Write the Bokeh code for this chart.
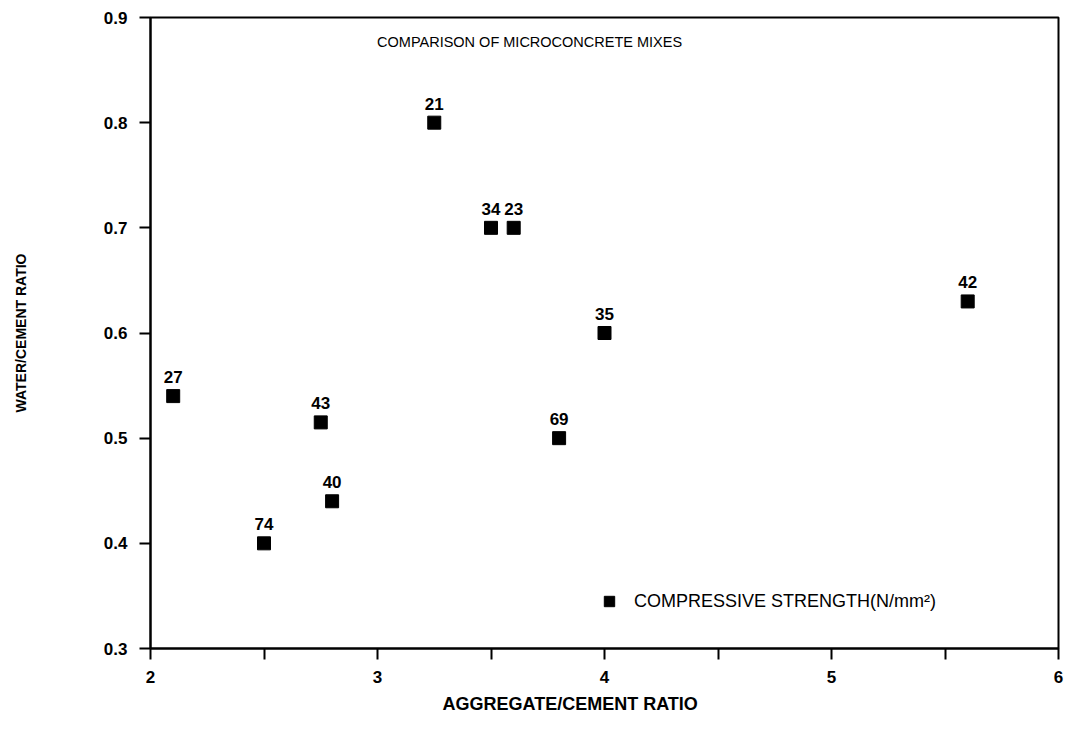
from bokeh.plotting import figure
from bokeh.models import ColumnDataSource, Legend, LegendItem, Label, FixedTicker, Title
from bokeh.core.properties import value
from bokeh.embed import file_html
from bokeh.resources import INLINE

# Data
agg_cement = [2.1, 2.5, 2.75, 2.8, 3.25, 3.5, 3.6, 3.8, 4.0, 5.6]
water_cement = [0.54, 0.40, 0.515, 0.44, 0.80, 0.70, 0.70, 0.50, 0.60, 0.63]
strength = ["27", "74", "43", "40", "21", "34", "23", "69", "35", "42"]
x_ticks = [2, 3, 4, 5, 6]
x_minor_ticks = [2.5, 3.5, 4.5, 5.5]
y_ticks = [0.3, 0.4, 0.5, 0.6, 0.7, 0.8, 0.9]

FONT = "Liberation Sans"

src = ColumnDataSource(dict(x=agg_cement, y=water_cement, lab=strength))

p = figure(width=1071, height=731, x_range=(2, 6), y_range=(0.3, 0.9),
           output_backend="svg", toolbar_location=None,
           min_border_left=150, min_border_right=13, min_border_top=17, min_border_bottom=83)
p.background_fill_color = "white"
p.border_fill_color = "white"
p.grid.visible = False
p.outline_line_color = "black"
p.outline_line_width = 2

r = p.scatter("x", "y", source=src, marker="square", size=13, color="black")
p.text("x", "y", text="lab", source=src, text_align="center", text_baseline="bottom",
       y_offset=-13, text_font=value(FONT), text_font_size="17px", text_font_style="bold",
       text_color="black")

# Axes
p.xaxis.ticker = FixedTicker(ticks=x_ticks, minor_ticks=x_minor_ticks)
p.yaxis.ticker = FixedTicker(ticks=y_ticks)
p.yaxis.formatter.use_scientific = False
for ax in (p.xaxis[0], p.yaxis[0]):
    ax.axis_line_color = "black"
    ax.axis_line_width = 2
    ax.major_tick_line_color = "black"
    ax.major_tick_line_width = 2
    ax.major_tick_in = 0
    ax.major_tick_out = 11
    ax.minor_tick_line_color = "black"
    ax.minor_tick_line_width = 2
    ax.minor_tick_in = 0
    ax.minor_tick_out = 11
    ax.major_label_text_font = FONT
    ax.major_label_text_font_size = "17px"
    ax.major_label_text_font_style = "bold"
    ax.major_label_text_color = "black"
    ax.axis_label_text_font = FONT
    ax.axis_label_text_font_size = "14px"
    ax.axis_label_text_font_style = "bold"
    ax.axis_label_text_color = "black"
p.xaxis.major_label_standoff = 11
p.yaxis.major_label_standoff = 12
p.yaxis.axis_label = "WATER/CEMENT RATIO"
p.yaxis.axis_label_standoff = 72

# x-axis label, placed below the axis and shifted slightly left as in the reference
p.add_layout(Title(text="AGGREGATE/CEMENT RATIO", align="left", offset=292, standoff=13,
                   text_font=FONT, text_font_size="18px", text_font_style="bold",
                   text_color="black"), "below")

# Title inside plot
p.add_layout(Label(x=3.67, y=0.877, text="COMPARISON OF MICROCONCRETE MIXES",
                   text_align="center", text_baseline="middle",
                   text_font=FONT, text_font_size="14.5px", text_color="black"))

legend = Legend(items=[LegendItem(label="COMPRESSIVE STRENGTH(N/mm²)", renderers=[r])],
                location=(446, 34), border_line_color=None, background_fill_alpha=0,
                padding=0, margin=0, glyph_width=26, glyph_height=26, label_standoff=12,
                label_text_font=FONT, label_text_font_size="18px", label_text_color="black")
p.add_layout(legend)

open("out.html", "w").write(file_html(p, INLINE))
